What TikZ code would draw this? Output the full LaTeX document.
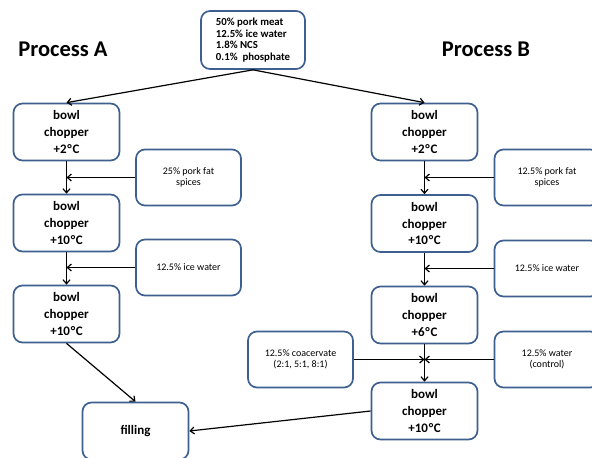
\documentclass[tikz,border=0pt]{standalone}
\usepackage{fontspec}
\setmainfont{Carlito}
\usetikzlibrary{arrows.meta}
\definecolor{boxblue}{RGB}{62,96,145}
\newcommand{\degC}{\kern0.8pt°\kern0.6pt C}
\begin{document}
\begin{tikzpicture}[x=1pt,y=-1pt,
  box/.style={draw=boxblue, line width=1.7pt, rounded corners=9pt, fill=white, align=center, inner sep=2pt},
  main/.style={box, minimum width=106pt, minimum height=57pt, font=\fontsize{13}{16.7}\selectfont\bfseries},
  side/.style={box, minimum width=105pt, minimum height=56pt, font=\fontsize{10}{11.5}\selectfont},
  topbox/.style={box, minimum width=104pt, minimum height=58pt, font=\fontsize{10.8}{11.7}\selectfont\bfseries, align=left},
  title/.style={font=\fontsize{22.5}{26}\selectfont\bfseries},
  arr/.style={line width=1.2pt, -{Straight Barb[length=4pt,width=7pt,line width=1.2pt]}}]
\useasboundingbox (0,0) rectangle (592,458);
\fill[white] (0,0) rectangle (592,458);

\node[title] (tA) at (63,49) {Process A};
\node[title] (tB) at (486,49) {Process B};

\node[topbox] (top) at (253,40) {50\% pork meat\\12.5\% ice water\\1.8\% NCS\\0.1\%\ \ phosphate};

\node[main] (A1) at (66.5,132) {bowl\\chopper\\+2\degC};
\node[main] (A2) at (66.5,223) {bowl\\chopper\\+10\degC};
\node[main] (A3) at (66.5,314) {bowl\\chopper\\+10\degC};
\node[side] (SA1) at (188.5,177.5) {25\% pork fat\\spices};
\node[side] (SA2) at (188.5,267.5) {12.5\% ice water};
\node[main] (fill) at (135.5,431) {filling};

\node[main] (B1) at (424.5,132) {bowl\\chopper\\+2\degC};
\node[main] (B2) at (424.5,223.5) {bowl\\chopper\\+10\degC};
\node[main] (B3) at (424.5,315) {bowl\\chopper\\+6\degC};
\node[main] (B4) at (424.5,411) {bowl\\chopper\\+10\degC};
\node[side] (SB1) at (547,177.5) {12.5\% pork fat\\spices};
\node[side] (SB2) at (547,268.5) {12.5\% ice water};
\node[side] (SC) at (300.5,359.5) {12.5\% coacervate\\(2:1, 5:1, 8:1)};
\node[side] (SW) at (547,359.5) {12.5\% water\\(control)};

\draw[arr] (top.south) -- (A1.north);
\draw[arr] (top.south) -- (B1.north);
\draw[arr] (A1.south) -- (A2.north);
\draw[arr] (A2.south) -- (A3.north);
\draw[arr] (SA1.west) -- (SA1.west -| A1.south);
\draw[arr] (SA2.west) -- (SA2.west -| A2.south);
\draw[arr] (A3.south) -- (fill.north);

\draw[arr] (B1.south) -- (B2.north);
\draw[arr] (B2.south) -- (B3.north);
\draw[arr] (B3.south) -- (B4.north);
\draw[arr] (SB1.west) -- (SB1.west -| B1.south);
\draw[arr] (SB2.west) -- (SB2.west -| B2.south);
\draw[arr] (SC.east) -- (SC.east -| B3.south);
\draw[arr] (SW.west) -- (SW.west -| B3.south);
\draw[arr] (B4.west) -- (fill.east);
\end{tikzpicture}
\end{document}
